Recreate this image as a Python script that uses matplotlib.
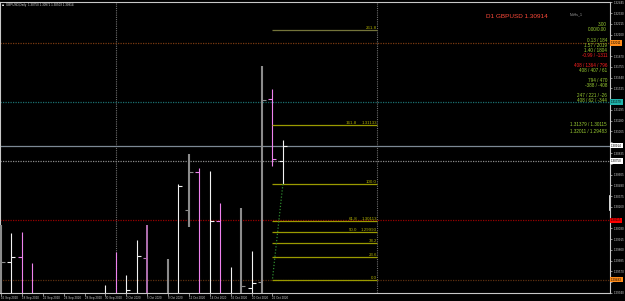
import numpy as np
import matplotlib
matplotlib.use('Agg')
import matplotlib.pyplot as plt
import matplotlib.transforms as mtransforms

plt.rcParams['font.family'] = ['Liberation Sans', 'DejaVu Sans']

# daily bars, GBPUSD D1 (16 Sep 2020 .. 23 Oct 2020)
opens  = [1.2890, 1.29670, 1.29723, 1.2915, 1.2815, 1.2740, 1.2730, 1.2750, 1.2745, 1.2840,
          1.2820, 1.2920, 1.2880, 1.2930, 1.29713, 1.2880, 1.2910, 1.2920, 1.30226, 1.30632,
          1.2925, 1.30108, 1.2915, 1.2920, 1.29392, 1.29456, 1.31412, 1.30750]
highs  = [1.30065, 1.29980, 1.29991, 1.29659, 1.2850, 1.2780, 1.2800, 1.2780, 1.2870, 1.2900,
          1.29424, 1.29777, 1.29531, 1.29905, 1.30065, 1.2930, 1.29702, 1.30504, 1.30824, 1.30675,
          1.30643, 1.30301, 1.29616, 1.30247, 1.29788, 1.31765, 1.31519, 1.30974]
lows   = [1.2865, 1.2765, 1.2890, 1.2800, 1.2720, 1.2690, 1.2690, 1.2675, 1.2735, 1.2780,
          1.2805, 1.2850, 1.2850, 1.2900, 1.2860, 1.2845, 1.2850, 1.2905, 1.30044, 1.2920,
          1.2865, 1.2865, 1.2880, 1.2900, 1.2860, 1.2910, 1.30696, 1.30504]
closes = [1.29670, 1.29723, 1.2915, 1.2815, 1.2740, 1.2730, 1.2750, 1.2745, 1.2840, 1.2820,
          1.2920, 1.2880, 1.2937, 1.29734, 1.2880, 1.2910, 1.2915, 1.30482, 1.30632, 1.2925,
          1.30108, 1.2915, 1.2920, 1.29414, 1.29445, 1.31402, 1.30771, 1.30910]
kinds  = ['gray', 'white', 'pink', 'pink', 'pink', 'pink', 'gray', 'pink', 'white', 'pink',
          'white', 'pink', 'white', 'white', 'dpink', 'white', 'gray', 'white', 'gray', 'pink',
          'white', 'pink', 'white', 'gray', 'white', 'gray', 'pink', 'white']

date_pos = [0, 2, 4, 6, 8, 10, 12, 14, 16, 18, 20, 22, 24, 26]
date_labels = ['16 Sep 2020', '18 Sep 2020', '22 Sep 2020', '24 Sep 2020', '28 Sep 2020',
               '30 Sep 2020', '2 Oct 2020', '6 Oct 2020', '8 Oct 2020', '12 Oct 2020',
               '14 Oct 2020', '16 Oct 2020', '20 Oct 2020', '22 Oct 2020']

price_ticks = [1.29340, 1.29455, 1.29570, 1.29685, 1.29800, 1.29915, 1.30030, 1.30145,
               1.30260, 1.30375, 1.30490, 1.30605, 1.30720, 1.30835, 1.30950, 1.31065,
               1.31180, 1.31295, 1.31410, 1.31525, 1.31640, 1.31755, 1.31870, 1.31985,
               1.32100, 1.32215, 1.32330, 1.32445]

# horizontal levels: price, colour, style
level_prices = [1.32011, 1.31379, 1.30914, 1.30750, 1.30115, 1.29483]
level_colors = ['#7a3a10', '#1a7070', '#7c8894', '#8c8c8c', '#9a0000', '#5e3010']
level_styles = ['dot', 'dot', 'solid', 'dot', 'dot', 'dot']
label_colors = ['#ff8c1a', '#20b2aa', '#ffffff', '#ffffff', '#ff0000', '#ff8c1a']

# fibonacci expansion anchored on bars 26 -> 27
fib_lo, fib_hi = 1.29483, 1.30503
fib_levels = [0.0, 23.6, 38.2, 50.0, 61.8, 100.0, 161.8, 261.8]
fib_show_price = [False, False, False, True, True, False, True, False]

info_lines = ['3.00', '0.00/0.00', '0.13 / 184', '1.57 / 2019', '1.40 / 1804', '-0.99 / -1311',
              '408 / 1364 / 796', '408 / 407 / 61', '794 / 470', '-388 / -408',
              '247 / 221 / -26', '408 / 62 / -344', '1.31379 / 1.30115', '1.32011 / 1.29483']
info_y = [24.7, 29.7, 40.7, 45.7, 50.7, 55.7, 65.7, 70.7, 80.7, 85.7, 95.7, 100.7, 125.0, 131.0]
info_red = [False, False, False, False, False, True, True, False, False, False, False, False,
            False, False]

W, H = 625, 301
fig = plt.figure(figsize=(W / 100, H / 100), dpi=100)
fig.patch.set_facecolor('black')
ax = fig.add_axes([0, 8 / H, 610 / W, 291 / H])
ax.set_facecolor('black')

step = 10.44  # pixels per bar
ax.set_xlim(-1 / step, 609 / step)
ax.set_ylim(1.29339, 1.32449)

colmap = {'gray': '#8c8c8c', 'white': '#f2f2f2', 'pink': '#ee82ee', 'dpink': '#b070b0'}
lwmap = {'gray': 1.5, 'white': 0.8, 'pink': 0.8, 'dpink': 1.4}
tk = 0.38
for i in range(len(opens)):
    c = colmap[kinds[i]]
    ax.vlines(i, lows[i], highs[i], color=c, lw=lwmap[kinds[i]], zorder=3)
    ax.hlines(opens[i], i - tk, i, color=c, lw=0.8, zorder=3)
    ax.hlines(closes[i], i, i + tk, color=c, lw=0.8, zorder=3)

# period separators
for xv in [11, 36.0]:
    ax.axvline(xv, color='#6e6e6e', lw=0.8, ls=(0, (1, 1)), zorder=1)

for p, c, s in zip(level_prices, level_colors, level_styles):
    ls = '-' if s == 'solid' else (0, (1, 1))
    ax.axhline(p, color=c, lw=0.9, ls=ls, zorder=2)

# fib lines
x0, x1 = 26, 36.0
for lev, showp in zip(fib_levels, fib_show_price):
    p = fib_lo + (fib_hi - fib_lo) * lev / 100
    col = '#74743a' if lev == 261.8 else '#9a9a00'
    ax.hlines(p, x0, x1, color=col, lw=0.9, zorder=4)
    if showp:
        ax.text(x1 - 1.9, p, '%.1f' % lev, color='#b0b000', fontsize=3.2, ha='right',
                va='bottom', zorder=5)
        ax.text(x1, p, '%.5f' % p, color='#b0b000', fontsize=3.2, ha='right',
                va='bottom', zorder=5)
    else:
        ax.text(x1, p, '%.1f' % lev, color='#b0b000', fontsize=3.2, ha='right',
                va='bottom', zorder=5)
ax.plot([27, 26], [fib_hi, fib_lo], color='#2e8b2e', lw=0.9, ls=(0, (1, 1.5)), zorder=4)

# axes look
for sp in ax.spines.values():
    sp.set_color('#c8c8c8')
    sp.set_linewidth(0.8)
ax.yaxis.tick_right()
ax.set_yticks(price_ticks)
# the coloured price boxes cover the tick labels next to them
ylabels = []
for t in price_ticks:
    near = min(abs(t - p) for p in level_prices)
    ylabels.append('' if near < 0.0006 else '%.5f' % t)
ax.set_yticklabels(ylabels)
ax.tick_params(axis='y', colors='#c8c8c8', labelsize=2.2, length=1.5, width=0.5, pad=1)
ax.set_xticks(date_pos)
ax.set_xticklabels(date_labels)
ax.tick_params(axis='x', colors='#c8c8c8', labelsize=2.2, length=2, width=0.5, pad=0.5)
for lb in ax.get_xticklabels():
    lb.set_horizontalalignment('left')

# price labels on the axis
tr = mtransforms.blended_transform_factory(ax.transAxes, ax.transData)
for p, c in zip(level_prices, label_colors):
    ax.text(1.002, p, '%.5f' % p, transform=tr, fontsize=2.2, color='black', va='center',
            ha='left', clip_on=False, zorder=6,
            bbox=dict(boxstyle='square,pad=0.25', fc=c, ec='none'))
ax.plot([1.0, 1.0], [1.30226, 1.30375], transform=tr, color='white', lw=1.2, clip_on=False)

# header and info texts (pixel positions)
def fx(px):
    return px / W

def fy(py):
    return 1 - py / H

fig.text(fx(2), fy(5), '\u25a0', color='white', fontsize=2.5, va='center')
fig.text(fx(6), fy(5), 'GBPUSD,Daily  1.30750 1.30971 1.30503 1.30914', color='#d8d8d8',
         fontsize=2.2, va='center')
fig.text(fx(548), fy(16), 'D1 GBPUSD 1.30914', color='#ff4a3a', fontsize=4.6, va='center',
         ha='right')
fig.text(fx(583), fy(14), 'NoHs_1', color='#a0a0a0', fontsize=2.6, va='center', ha='right')
for t, y, r in zip(info_lines, info_y, info_red):
    fig.text(fx(607), fy(y), t, color='#ff2020' if r else '#9acd32', fontsize=3.3,
             va='center', ha='right')

fig.savefig('out.png', dpi=100, facecolor='black')
